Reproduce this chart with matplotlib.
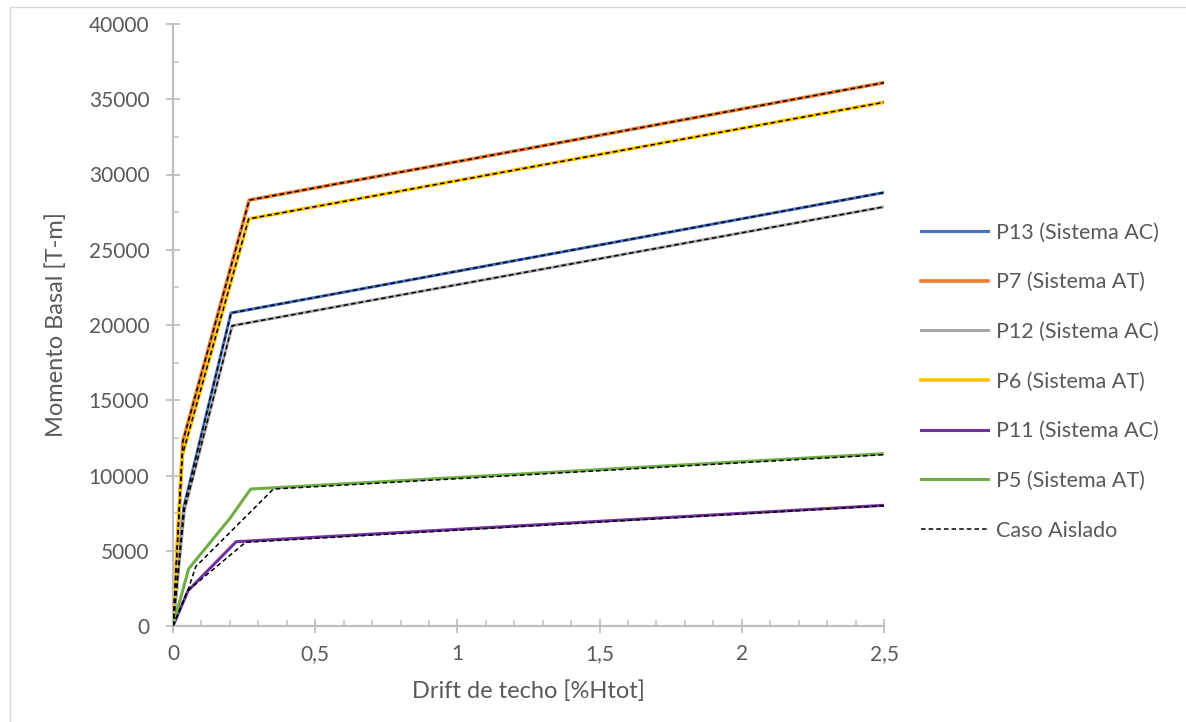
import matplotlib.pyplot as plt
from matplotlib.ticker import MultipleLocator, FuncFormatter
from matplotlib.lines import Line2D

plt.rcParams['font.family'] = ['Lato', 'DejaVu Sans']

# curves (drift %, moment T-m)
p13_x = [0, 0.038, 0.204, 2.5]
p13_y = [0, 7900, 20800, 28800]
p7_x = [0, 0.035, 0.268, 2.5]
p7_y = [0, 12300, 28300, 36100]
p12_x = [0, 0.040, 0.208, 2.5]
p12_y = [0, 7700, 19950, 27850]
p6_x = [0, 0.032, 0.266, 2.5]
p6_y = [0, 11300, 27050, 34800]
p11_x = [0, 0.053, 0.222, 2.5]
p11_y = [0, 2350, 5600, 8020]
p5_x = [0, 0.055, 0.200, 0.273, 2.5]
p5_y = [0, 3800, 7150, 9100, 11450]

# isolated case (dashed) where it differs from the coupled curve
ais11_x = [0, 0.052, 0.255, 2.5]
ais11_y = [0, 2350, 5560, 7990]
ais5_x = [0, 0.052, 0.080, 0.353, 2.5]
ais5_y = [0, 2350, 3950, 9100, 11380]

labels = ["P13 (Sistema AC)", "P7 (Sistema AT)", "P12 (Sistema AC)",
          "P6 (Sistema AT)", "P11 (Sistema AC)", "P5 (Sistema AT)"]
colors = ["#4472C4", "#ED7D31", "#A5A5A5", "#FFC000", "#7030A0", "#70AD47"]
widths = [2.2, 2.6, 2.2, 2.6, 2.2, 2.2]

series = [(p13_x, p13_y), (p7_x, p7_y), (p12_x, p12_y),
          (p6_x, p6_y), (p11_x, p11_y), (p5_x, p5_y)]
aislado = [(p13_x, p13_y), (p7_x, p7_y), (p12_x, p12_y),
           (p6_x, p6_y), (ais11_x, ais11_y), (ais5_x, ais5_y)]

fig = plt.figure(figsize=(11.86, 7.22), dpi=100)
ax = fig.add_axes([173/1186, 1-626/722, (884-173)/1186, (626-24)/722])

handles = []
for (x, y), lab, c, w in zip(series, labels, colors, widths):
    h, = ax.plot(x, y, color=c, lw=w, label=lab, solid_joinstyle='miter', zorder=2)
    handles.append(h)
for x, y in aislado:
    ax.plot(x, y, color='black', lw=1.1, ls=(0, (3, 2)), zorder=3)
handles.append(Line2D([], [], color='black', lw=1.1, ls=(0, (3, 2))))

ax.set_xlim(0, 2.5)
ax.set_ylim(0, 40000)
ax.xaxis.set_major_locator(MultipleLocator(0.5))
ax.xaxis.set_minor_locator(MultipleLocator(0.1))
ax.yaxis.set_major_locator(MultipleLocator(5000))
ax.yaxis.set_minor_locator(MultipleLocator(2500))
ax.xaxis.set_major_formatter(FuncFormatter(lambda v, p: ('%g' % v).replace('.', ',')))

gray = '#BFBFBF'
txt = '#595959'
for s in ['top', 'right']:
    ax.spines[s].set_visible(False)
for s in ['left', 'bottom']:
    ax.spines[s].set_color(gray)
    ax.spines[s].set_linewidth(1.6)
ax.tick_params(which='major', direction='inout', length=10, width=1.3, color=gray,
               labelsize=15, labelcolor=txt)
ax.tick_params(which='minor', direction='in', length=4, width=1.1, color=gray)
ax.tick_params(axis='y', which='major', pad=12)
ax.tick_params(axis='x', which='major', pad=8)

ax.set_ylabel("Momento Basal [T-m]", fontsize=17, color=txt, labelpad=16)
ax.set_xlabel("Drift de techo [%Htot]", fontsize=17, color=txt, labelpad=12)

fig.legend(handles, labels + ["Caso Aislado"], loc='upper left',
           bbox_to_anchor=(902/1186, 1-203/722), frameon=False,
           fontsize=15.5, labelcolor=txt, handlelength=3.1, handletextpad=0.35,
           labelspacing=1.38)

# light outer frame of the chart area
fig.add_artist(Line2D([9.5/1186, 9.5/1186], [0, 1-6.5/722], color='#D9D9D9', lw=1))
fig.add_artist(Line2D([9.5/1186, 1], [1-6.5/722, 1-6.5/722], color='#D9D9D9', lw=1))

fig.savefig("out.png", dpi=100)
